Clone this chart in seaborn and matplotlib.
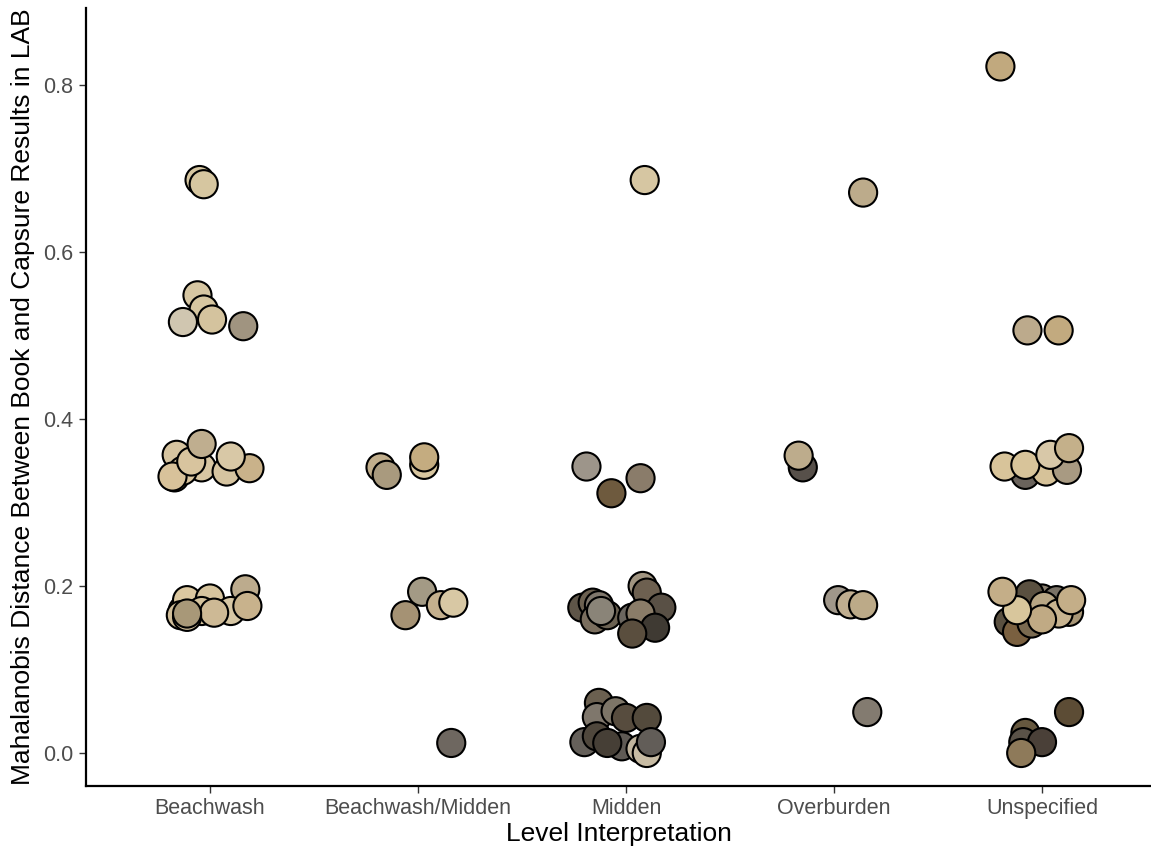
import matplotlib
matplotlib.use("Agg")
import matplotlib.pyplot as plt
import seaborn as sns
import pandas as pd

# Category order on the x axis
categories = ["Beachwash", "Beachwash/Midden", "Midden", "Overburden", "Unspecified"]

# Each sample: interpretation, horizontal jitter (category units), distance, sample colour
beach_jit = [-0.05, -0.03, -0.06, -0.03, 0.01, -0.13, 0.16,
             -0.17, -0.04, 0.08, 0.19, 0.10, -0.16, -0.13, -0.18, -0.09, -0.04,
             -0.13, -0.11, 0.0, 0.17, 0.10, 0.18, -0.04, 0.02, -0.14, -0.11, -0.11]
beach_y = [0.686, 0.681, 0.548, 0.531, 0.519, 0.516, 0.511,
           0.330, 0.342, 0.337, 0.341, 0.355, 0.357, 0.338, 0.331, 0.349, 0.370,
           0.171, 0.183, 0.185, 0.196, 0.170, 0.176, 0.170, 0.168, 0.165, 0.163, 0.167]
beach_col = ["#d6c6a0", "#d6c6a0", "#d6c6a2", "#d6c6a0", "#d4c39e", "#d0c6b0", "#a09480",
             "#d6c29a", "#d8c6a2", "#d6c4a0", "#c9b28a", "#d8c8a6", "#d6c4a0", "#dcc7a0", "#d8c29a", "#d8c49e", "#bfae8f",
             "#c9b590", "#dcc8a0", "#d6c49e", "#bcab8d", "#d6c6a4", "#c8b28c", "#d4c29c", "#cdb995", "#d0be9a", "#d2c09c", "#a89878"]

bm_jit = [-0.18, -0.15, 0.03, 0.03, 0.02, -0.06, 0.11, 0.17, 0.16]
bm_y = [0.342, 0.333, 0.345, 0.354, 0.193, 0.165, 0.177, 0.180, 0.012]
bm_col = ["#c1ae8c", "#a99a7e", "#d8c6a0", "#c4ac80", "#a39a85", "#a59274", "#c4b08e", "#d8c8a4", "#6e6760"]

mid_jit = [0.09, -0.19, -0.07, 0.07,
           -0.21, -0.16, -0.13, -0.15, -0.09, 0.08, 0.1, 0.17, 0.03, 0.07, 0.14, 0.03, -0.12,
           -0.13, -0.14, -0.05, 0.0, 0.10, -0.20, -0.14, -0.02, -0.09, 0.07, 0.1, 0.12]
mid_y = [0.686, 0.343, 0.311, 0.329,
         0.174, 0.180, 0.177, 0.160, 0.165, 0.200, 0.192, 0.174, 0.162, 0.167, 0.150, 0.143, 0.170,
         0.060, 0.043, 0.050, 0.042, 0.042, 0.013, 0.020, 0.008, 0.012, 0.005, 0.000, 0.013]
mid_col = ["#d6c6a2", "#9d958a", "#6e5a3e", "#8a7c6a",
           "#5e5548", "#6b6050", "#7f776c", "#7a6e5e", "#6a6152", "#a09480", "#6d6050", "#595045", "#6b665f", "#8a7c68", "#3f3a33", "#5a4e3e", "#8a8478",
           "#6b6050", "#7f776c", "#7d7567", "#574c3e", "#534a3c", "#65605a", "#4f473c", "#5f5a54", "#463f36", "#c0b49d", "#c8bca4", "#625d58"]

over_jit = [0.14, -0.15, -0.17, 0.02, 0.08, 0.14, 0.16]
over_y = [0.671, 0.342, 0.356, 0.183, 0.178, 0.177, 0.049]
over_col = ["#bcab8b", "#57504a", "#bdac8c", "#a0978a", "#c0ae90", "#bcaa88", "#837b70"]

uns_jit = [-0.20, -0.07, 0.08,
           -0.08, -0.18, 0.02, -0.08, 0.12, 0.04, 0.13,
           0.0, -0.06, 0.07, 0.01, 0.13, 0.08, -0.16, -0.12, -0.05, 0.00, -0.12, -0.19, 0.14,
           0.13, -0.08, -0.09, 0.0, -0.10]
uns_y = [0.822, 0.506, 0.506,
         0.333, 0.343, 0.337, 0.345, 0.339, 0.357, 0.365,
         0.185, 0.190, 0.183, 0.176, 0.169, 0.167, 0.157, 0.145, 0.155, 0.160, 0.171, 0.193, 0.183,
         0.049, 0.024, 0.013, 0.013, 0.000]
uns_col = ["#c1a97e", "#bcaa8c", "#c2aa7f",
           "#6a635c", "#d8c49a", "#d6c299", "#d8c49a", "#a89a82", "#d8c8a8", "#c4b08a",
           "#8a8070", "#5a5040", "#7a7266", "#b8a684", "#a89676", "#c8b490", "#5a5040", "#7a6040", "#7a6a50", "#c0aa84", "#d8c69c", "#c4ae88", "#c4ae88",
           "#5c4c35", "#66583f", "#5a5248", "#4a4038", "#8e7a5a"]

df = pd.DataFrame({
    "cat": (["Beachwash"] * len(beach_y) + ["Beachwash/Midden"] * len(bm_y)
            + ["Midden"] * len(mid_y) + ["Overburden"] * len(over_y)
            + ["Unspecified"] * len(uns_y)),
    "jit": beach_jit + bm_jit + mid_jit + over_jit + uns_jit,
    "dist": beach_y + bm_y + mid_y + over_y + uns_y,
    "col": beach_col + bm_col + mid_col + over_col + uns_col,
})
df["xpos"] = df["cat"].map({c: i for i, c in enumerate(categories)}) + df["jit"]

sns.set_theme(style="ticks")
plt.rcParams["font.family"] = ["Liberation Sans", "DejaVu Sans"]

fig = plt.figure(figsize=(11.51, 8.51), dpi=100)
ax = fig.add_axes([0.0747, 0.0764, 0.9253, 0.9142])

sns.scatterplot(data=df, x="xpos", y="dist", hue="col", palette={c: c for c in df["col"].unique()},
                s=410, edgecolor="black", linewidth=1.5, alpha=1, legend=False, ax=ax, zorder=3)

ax.set_xlim(-0.596, 4.524)
ax.set_ylim(-0.0395, 0.892)
ax.set_xticks(range(len(categories)))
ax.set_xticklabels(categories)
ax.set_yticks([0.0, 0.2, 0.4, 0.6, 0.8])
ax.set_yticklabels(["0.0", "0.2", "0.4", "0.6", "0.8"])
ax.tick_params(axis="both", labelsize=15.5, colors="#333333", length=5, width=1.0,
               labelcolor="#4d4d4d", direction="out", pad=4)
for s in ["top", "right"]:
    ax.spines[s].set_visible(False)
for s in ["left", "bottom"]:
    ax.spines[s].set_linewidth(1.6)
    ax.spines[s].set_color("black")

ax.set_xlabel("Level Interpretation", fontsize=19, color="black", labelpad=2)
ax.set_ylabel("Mahalanobis Distance Between Book and Capsure Results in LAB",
              fontsize=19, color="black", labelpad=6)

fig.savefig("out.png", dpi=100)
